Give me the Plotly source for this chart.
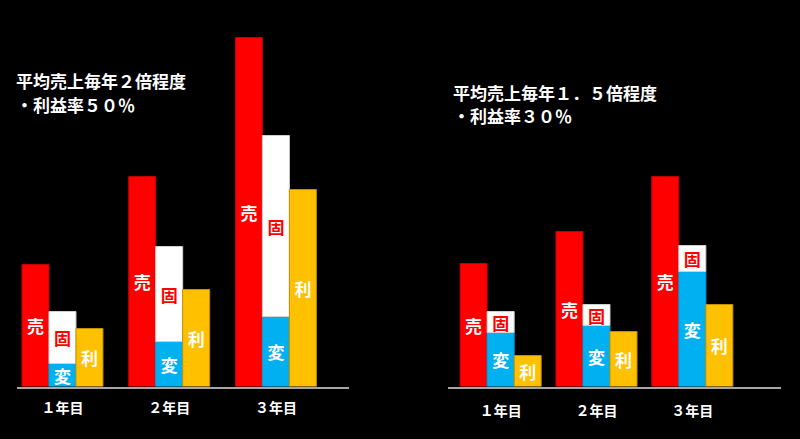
import plotly.graph_objects as go

years = ["１年目", "２年目", "３年目"]

left_sales = [122, 210, 349]
left_variable = [23, 45, 70]
left_fixed = [52, 95, 181]
left_profit = [58, 97, 197]

right_sales = [123, 155, 210]
right_variable = [54, 61, 115]
right_fixed = [21, 21, 26]
right_profit = [31, 55, 82]

left_title = ["平均売上毎年２倍程度", "・利益率５０％"]
right_title = ["平均売上毎年１．５倍程度", "・利益率３０％"]

lbl_sales, lbl_fixed, lbl_var, lbl_profit = "売", "固", "変", "利"

RED, BLUE, YEL, WHITE = "#FF0000", "#00B0F0", "#FFC000", "#FFFFFF"
FONT = "Noto Sans CJK JP"

fig = go.Figure()


def add_panel(xa, ya, sales, variable, fixed, profit, w):
    common = dict(x=years, xaxis=xa, yaxis=ya, width=w, textposition="inside",
                  insidetextanchor="middle", textangle=0, hoverinfo="skip",
                  showlegend=False)
    fs = 17
    fig.add_trace(go.Bar(y=sales, offset=-1.5 * w, marker=dict(color=RED, line=dict(color="#C00000", width=1)),
                         text=[lbl_sales] * len(years),
                         textfont=dict(color="white", size=fs, family=FONT, weight="bold"), **common))
    fig.add_trace(go.Bar(y=variable, offset=-0.5 * w, marker=dict(color=BLUE, line=dict(color="#00A0E0", width=1)),
                         text=[lbl_var] * len(years),
                         textfont=dict(color="white", size=fs, family=FONT, weight="bold"), **common))
    fig.add_trace(go.Bar(y=fixed, base=variable, offset=-0.5 * w,
                         marker=dict(color=WHITE, line=dict(color="#D0D0D0", width=1)),
                         text=[lbl_fixed] * len(years),
                         textfont=dict(color=RED, size=fs, family=FONT, weight="bold"), **common))
    fig.add_trace(go.Bar(y=profit, offset=0.5 * w, marker=dict(color=YEL, line=dict(color="#BF9000", width=1)),
                         text=[lbl_profit] * len(years),
                         textfont=dict(color="white", size=fs, family=FONT, weight="bold"), **common))


add_panel("x", "y", left_sales, left_variable, left_fixed, left_profit, 0.253)
add_panel("x2", "y2", right_sales, right_variable, right_fixed, right_profit, 0.282)

H = 439
base_px = 386.5
y0 = (H - base_px) / H

xax = dict(type="category", showgrid=False, zeroline=False, showline=True, linecolor="#A6A6A6",
           linewidth=2, ticks="", tickfont=dict(color="white", size=14, family=FONT, weight="bold"),
           fixedrange=True)
yax = dict(range=[0, base_px], showgrid=False, zeroline=False, showline=False, showticklabels=False,
           domain=[y0, 1])


def title_ann(text, xpx, ypx):
    return dict(text=text, xref="paper", yref="paper", x=xpx / 800, y=1 - ypx / H,
                xanchor="left", yanchor="middle", align="left", showarrow=False,
                font=dict(color="white", size=17, family=FONT, weight="bold"))


fig.update_layout(
    width=800, height=439,
    margin=dict(l=0, r=0, t=0, b=0),
    paper_bgcolor="black", plot_bgcolor="black",
    barmode="overlay",
    uniformtext=dict(minsize=17, mode="show"),
    xaxis=dict(xax, domain=[17 / 800, 349 / 800], range=[-0.426, 2.685], anchor="y",
               ticklabelstandoff=8),
    yaxis=dict(yax, anchor="x"),
    xaxis2=dict(xax, domain=[448.3 / 800, 780.7 / 800], range=[-0.546, 2.922], anchor="y2",
                ticklabelstandoff=11),
    yaxis2=dict(yax, anchor="x2"),
    annotations=[
        title_ann(left_title[0], 14, 80),
        title_ann(left_title[1], 14, 104),
        title_ann(right_title[0], 451, 92),
        title_ann(right_title[1], 451, 116),
    ],
)

fig.write_html("out.html")
